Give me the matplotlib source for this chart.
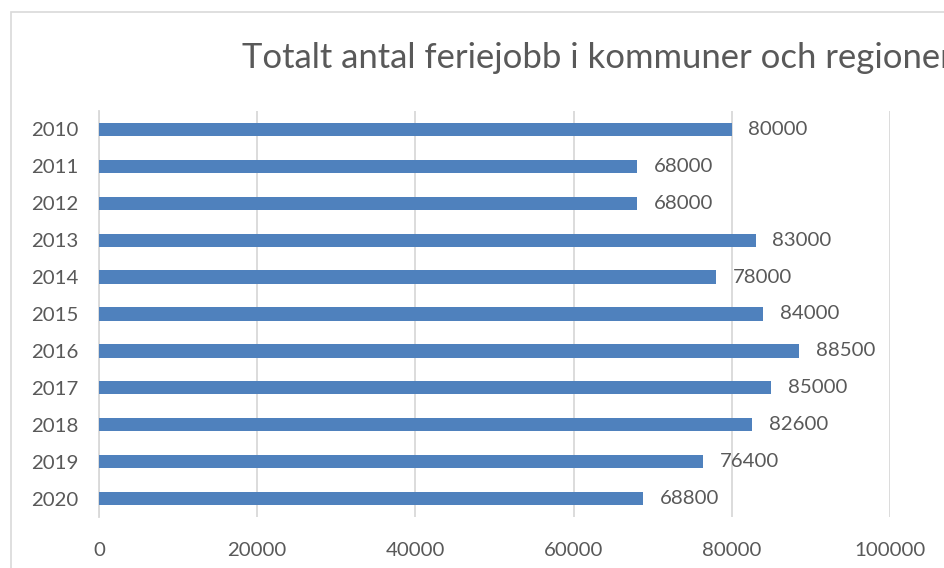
import matplotlib.pyplot as plt
from matplotlib.patches import Rectangle

# Data
years = ['2010', '2011', '2012', '2013', '2014', '2015', '2016', '2017', '2018', '2019', '2020']
jobs = [80000, 68000, 68000, 83000, 78000, 84000, 88500, 85000, 82600, 76400, 68800]
xticks = [0, 20000, 40000, 60000, 80000, 100000]

plt.rcParams['font.family'] = ['Lato', 'DejaVu Sans']
text_col = '#595959'
grid_col = '#D9D9D9'

W, H = 944, 568
fig = plt.figure(figsize=(W / 100, H / 100), dpi=100)

# chart frame (cut off at right and bottom in the reference)
fig.patches.append(Rectangle((11 / W, -0.1), 1.2, 1 - 12 / H + 0.1, transform=fig.transFigure,
                             fill=False, edgecolor=grid_col, linewidth=1.2))

ax = fig.add_axes([99 / W, 1 - 517 / H, (890 - 99) / W, (517 - 111) / H])
pos = list(range(len(years)))
ax.barh(pos, jobs, height=0.36, color='#4F81BD', zorder=3)

for p, v in zip(pos, jobs):
    ax.text(v + 2100, p, str(v), va='center', ha='left', fontsize=14.7, color=text_col)

ax.set_ylim(len(years) - 0.5, -0.5)
ax.set_yticks(pos)
ax.set_yticklabels(years)
ax.set_xlim(0, 100000)
ax.set_xticks(xticks)
ax.set_xticklabels([str(t) for t in xticks])
ax.tick_params(axis='both', length=0, labelsize=14.7, labelcolor=text_col)
ax.tick_params(axis='y', pad=15)
ax.tick_params(axis='x', pad=18)
ax.grid(axis='x', color=grid_col, linewidth=1.3, zorder=0)
for s in ['top', 'right', 'bottom']:
    ax.spines[s].set_visible(False)
ax.spines['left'].set_color(grid_col)
ax.spines['left'].set_linewidth(1.3)

fig.text(242 / W, 1 - 58 / H, 'Totalt antal feriejobb i kommuner och regioner',
         ha='left', va='center', fontsize=24.9, color=text_col)

fig.savefig('out.png', dpi=100)
